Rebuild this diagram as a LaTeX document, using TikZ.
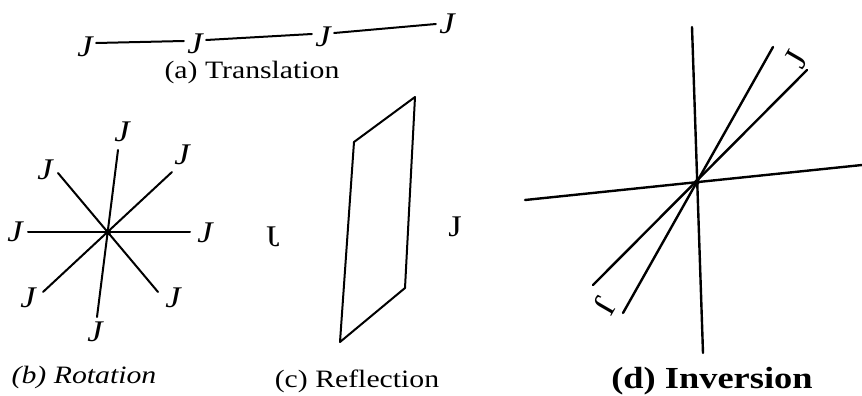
\documentclass[tikz,border=0pt]{standalone}
\usepackage{fontspec}
\setmainfont{Liberation Serif}

\tikzset{
  jit/.style={inner sep=0pt, outer sep=1.5pt, font=\fontsize{15}{17}\selectfont\itshape, xscale=1.15},
  jup/.style={inner sep=0pt, outer sep=1.5pt, font=\fontsize{15}{17}\selectfont, xscale=1.15},
  jrot/.style={inner sep=0pt, font=\fontsize{17}{19}\selectfont},
  caption/.style={inner sep=0pt, font=\fontsize{12.5}{15}\selectfont, xscale=1.19},
  bar/.style={line width=1pt, line cap=round},
}

\begin{document}
\begin{tikzpicture}[x=0.5pt, y=-0.5pt]
        \useasboundingbox (0,0) rectangle (862,396);
        % (a) translation
        \draw (85,47) node[jit](t1) {J};
        \draw (195,44) node[jit](t2) {J};
        \draw (323,37) node[jit](t3) {J};
        \draw (447,24) node[jit](t4) {J};
        \draw[bar] ([yshift=2pt]t1.east) -- ([yshift=1.5pt]t2.west);
        \draw[bar] ([yshift=2pt]t2.east) -- ([yshift=1.5pt]t3.west);
        \draw[bar] ([yshift=2pt]t3.east) -- ([yshift=0pt]t4.west);
        \draw (252,72) node[caption](capa) {(a) Translation};

        % (b) rotation
        \coordinate (rc) at (108,232);
        \coordinate (r1) at (118,150);
        \coordinate (r2) at (97,317);
        \coordinate (r3) at (28,232);
        \coordinate (r4) at (190,232);
        \coordinate (r5) at (172,172);
        \coordinate (r6) at (43,292);
        \coordinate (r7) at (58,173);
        \coordinate (r8) at (158,292);
        \draw[bar] (r1) -- (r2);
        \draw[bar] (r3) -- (r4);
        \draw[bar] (r5) -- (r6);
        \draw[bar] (r7) -- (r8);
        \fill (rc) circle (1.6pt);
        \draw (122,132) node[jit](rn) {J};
        \draw (182,155) node[jit](rne) {J};
        \draw (45,170) node[jit](rnw) {J};
        \draw (15,232) node[jit](rw) {J};
        \draw (205,233) node[jit](re) {J};
        \draw (28,298) node[jit](rsw) {J};
        \draw (173,298) node[jit](rse) {J};
        \draw (95,332) node[jit](rs) {J};
        \draw (84,377) node[caption](capb) {\itshape (b) Rotation};

        % (c) reflection
        \coordinate (p1) at (415,97);
        \coordinate (p2) at (354,142);
        \coordinate (p3) at (340,342);
        \coordinate (p4) at (405,288);
        \draw[bar, line join=round] (p1) -- (p2) -- (p3) -- (p4) -- cycle;
        \draw (273,237) node[jup, xscale=-1](cl) {J};
        \draw (455,227) node[jup](cr) {J};
        \draw (357,381) node[caption](capc) {(c) Reflection};

        % (d) inversion
        \coordinate (ic) at (697,182);
        \coordinate (i1) at (692,27);
        \coordinate (i2) at (703,353);
        \coordinate (i3) at (525,200);
        \coordinate (i4) at (862,165);
        \coordinate (i5) at (773,47);
        \coordinate (i6) at (623,313);
        \coordinate (i7) at (807,70);
        \coordinate (i8) at (593,285);
        \draw[bar, line width=1.2pt] (i1) -- (i2);
        \draw[bar, line width=1.2pt] (i3) -- (i4);
        \draw[bar, line width=1.2pt] (i5) -- (i6);
        \draw[bar, line width=1.2pt] (i7) -- (i8);
        \fill (ic) circle (1.4pt);
        \draw (796,59) node[jrot, rotate=60](iu) {J};
        \draw (605,306) node[jrot, rotate=240](id) {J};
        \draw (712,381) node[caption, font=\fontsize{15.3}{18}\selectfont\bfseries](capd) {(d) Inversion};
\end{tikzpicture}
\end{document}
